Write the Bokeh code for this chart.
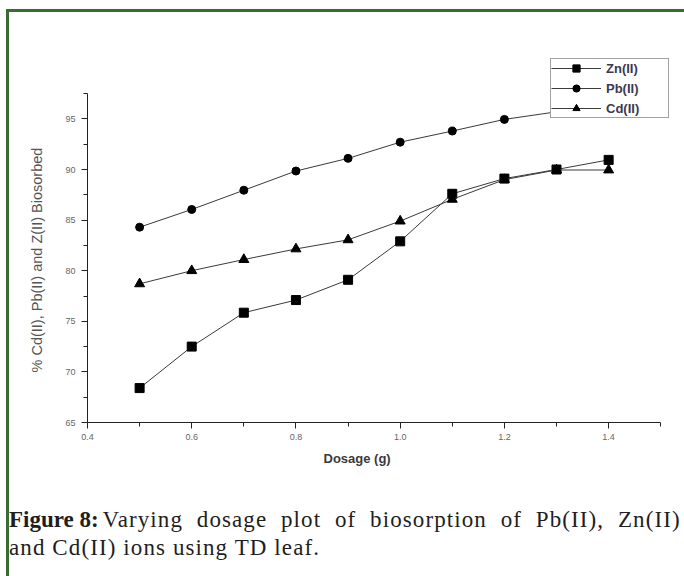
from bokeh.plotting import figure
from bokeh.models import (Range1d, Legend, LegendItem, BoxAnnotation, FixedTicker,
                          PrintfTickFormatter, Div, Title, Spacer)
from bokeh.layouts import column
from bokeh.embed import file_html
from bokeh.resources import INLINE

# ---- data ----
dosage = [0.5, 0.6, 0.7, 0.8, 0.9, 1.0, 1.1, 1.2, 1.3, 1.4]
zn = [68.4, 72.5, 75.85, 77.1, 79.1, 82.9, 87.6, 89.1, 90.0, 90.95]
pb = [84.3, 86.05, 87.95, 89.85, 91.1, 92.7, 93.8, 94.95, 95.7, 96.4]
cd = [78.7, 80.0, 81.1, 82.15, 83.05, 84.9, 87.05, 89.0, 89.95, 89.95]
x_ticks = [0.4, 0.6, 0.8, 1.0, 1.2, 1.4]
x_minor = [0.5, 0.7, 0.9, 1.1, 1.3, 1.5]
y_ticks = [65, 70, 75, 80, 85, 90, 95]
y_minor = [67.5, 72.5, 77.5, 82.5, 87.5, 92.5, 97.5]
series_names = ["Zn(II)", "Pb(II)", "Cd(II)"]
x_title = "Dosage (g)"
y_title = "% Cd(II), Pb(II) and Z(II) Biosorbed"
caption_bold = "Figure 8:"
caption_rest = "Varying dosage plot of biosorption of Pb(II), Zn(II)"
caption_line2 = "and Cd(II) ions using TD leaf."

# ---- layout (page pixels) ----
PAGE_W, PAGE_H = 684, 576
BX, BY, BW = 6, 9, 3          # green frame offset and width
OX, OY = BX + BW, BY + BW     # where the figure starts
FL, FB = 86, 422              # page x of frame left, page y of frame bottom
XPX = 522.0                   # px per x unit
YPX = 10.12                   # px per y unit
FIG_BOTTOM = 500

fig_w = PAGE_W - OX
fig_h = FIG_BOTTOM - OY

p = figure(width=fig_w, height=fig_h, output_backend="svg", toolbar_location=None,
           x_range=Range1d(0.4, 0.4 + (PAGE_W - FL) / XPX),
           y_range=Range1d(65, 65 + (FB - OY) / YPX),
           min_border_left=FL - OX, min_border_right=0,
           min_border_top=0, min_border_bottom=FIG_BOTTOM - FB)
p.xgrid.visible = False
p.ygrid.visible = False
p.outline_line_color = None
p.background_fill_color = "white"
p.border_fill_color = "white"

def px2x(px):
    return 0.4 + (px - FL) / XPX

def py2y(py):
    return 65 + (FB - py) / YPX

line_col = "#3a3a3a"
rz = p.line(dosage, zn, line_color=line_col, line_width=1)
sz = p.scatter(dosage, zn, marker="square", size=9, color="black")
rp = p.line(dosage, pb, line_color=line_col, line_width=1)
sp = p.scatter(dosage, pb, marker="circle", size=8, color="black")
rc = p.line(dosage, cd, line_color=line_col, line_width=1)
sc = p.scatter(dosage, cd, marker="triangle", size=10, color="black")

# axes
for ax in (p.xaxis[0], p.yaxis[0]):
    ax.axis_line_color = "#222222"
    ax.major_tick_line_color = "#222222"
    ax.minor_tick_line_color = "#222222"
    ax.major_tick_out = 6
    ax.major_tick_in = 0
    ax.minor_tick_out = 4
    ax.minor_tick_in = 0
    ax.major_label_text_font = "Liberation Sans"
    ax.major_label_text_font_size = "9px"
    ax.major_label_text_color = "#666666"

p.xaxis.bounds = (0.4, 1.5)
p.yaxis.bounds = (65, 97.5)
p.xaxis.ticker = FixedTicker(ticks=x_ticks, minor_ticks=x_minor)
p.yaxis.ticker = FixedTicker(ticks=y_ticks, minor_ticks=y_minor)
p.xaxis.formatter = PrintfTickFormatter(format="%.1f")
p.yaxis.major_label_standoff = 6

# axis titles (as titles so they can be placed along the drawn axis span)
p.add_layout(Title(text=y_title, align="left", offset=50, standoff=35,
                   text_font="Liberation Sans", text_font_size="14.5px",
                   text_font_style="normal", text_color="#555555"), "left")
p.add_layout(Title(text=x_title, align="left", offset=236, standoff=13,
                   text_font="Liberation Sans", text_font_size="13px",
                   text_font_style="bold", text_color="#3a3a3a"), "below")

# legend
legend = Legend(items=[LegendItem(label=series_names[0], renderers=[rz, sz]),
                       LegendItem(label=series_names[1], renderers=[rp, sp]),
                       LegendItem(label=series_names[2], renderers=[rc, sc])],
                location=(549 - FL, FB - 118))
legend.border_line_color = "#444444"
legend.border_line_width = 1
legend.background_fill_color = "white"
legend.background_fill_alpha = 1
legend.label_text_font = "Liberation Sans"
legend.label_text_font_size = "13px"
legend.label_text_font_style = "bold"
legend.label_text_color = "#3a3a50"
legend.glyph_width = 50
legend.glyph_height = 18
legend.label_height = 18
legend.label_width = 62
legend.spacing = 2
legend.padding = 0
legend.margin = 0
legend.label_standoff = 5
legend.level = "annotation"
p.add_layout(legend, "center")

# red highlight box around first legend glyph (drawn above the legend)
p.add_layout(BoxAnnotation(left=px2x(559), right=px2x(609), top=py2y(61), bottom=py2y(78),
                           fill_alpha=0, line_color="#e03030", line_alpha=1.0,
                           line_width=1.5, level="overlay", propagate_hover=False),
             "center")

caption_html = (
    '<div style="font-family:\'Liberation Serif\',serif;font-size:23px;line-height:28px;'
    'color:#1e1e1e;white-space:nowrap;margin-left:-5px;letter-spacing:1.1px;">'
    '<b style="letter-spacing:0px;">' + caption_bold + '</b> '
    '<span style="word-spacing:6.9px;margin-left:-3px;">' + caption_rest + '</span><br>'
    + caption_line2 + '</div>'
)
cap = Div(text=caption_html, width=fig_w, height=PAGE_H - FIG_BOTTOM,
          styles={"padding-top": "1px"})

green = "#3a6b32"
top_bar = Spacer(width=PAGE_W - BX, height=BW, styles={"background-color": green})
inner = column(p, cap, styles={"border-left": "%dpx solid %s" % (BW, green)})
layout = column(top_bar, inner, margin=(BY, 0, 0, BX))

open("out.html", "w").write(file_html(layout, INLINE))
